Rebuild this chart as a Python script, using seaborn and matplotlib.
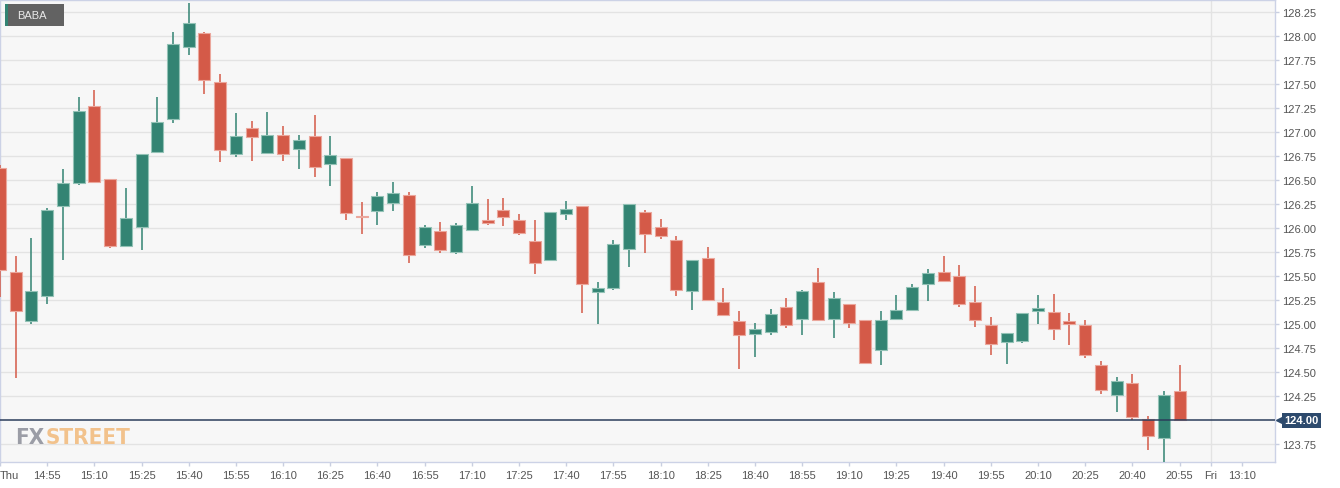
import matplotlib
matplotlib.use("Agg")
import numpy as np
import matplotlib.pyplot as plt
import matplotlib.transforms as mtransforms
from matplotlib import font_manager
from matplotlib.patches import Rectangle
import seaborn as sns

# BABA, 5-minute candles, Thu 14:40 .. 20:55
opens = [126.63, 125.54, 125.03, 125.29, 126.23, 126.47, 127.27, 126.51, 125.81, 126.01,
         126.79, 127.14, 127.89, 128.03, 127.52, 126.77, 127.04, 126.78, 126.97, 126.82,
         126.96, 126.67, 126.73, 126.13, 126.18, 126.26, 126.35, 125.82, 125.97, 125.75,
         125.98, 126.08, 126.19, 126.08, 125.87, 125.67, 126.15, 126.23, 125.34, 125.38,
         125.78, 126.17, 126.01, 125.88, 125.35, 125.69, 125.23, 125.03, 124.90, 124.92,
         125.18, 125.05, 125.44, 125.05, 125.21, 125.04, 124.73, 125.05, 125.15, 125.42,
         125.54, 125.50, 125.23, 124.99, 124.82, 124.83, 125.14, 125.13, 125.03, 124.99,
         124.58, 124.26, 124.39, 124.01, 123.82, 124.31]
highs = [126.66, 125.71, 125.90, 126.21, 126.62, 127.37, 127.44, 126.51, 126.42, 126.77,
         127.37, 128.04, 128.34, 128.04, 127.60, 127.20, 127.12, 127.21, 127.06, 126.97,
         127.18, 126.96, 126.73, 126.27, 126.38, 126.48, 126.38, 126.03, 126.06, 126.05,
         126.44, 126.30, 126.31, 126.15, 126.09, 126.17, 126.28, 126.23, 125.44, 125.88,
         126.25, 126.19, 126.10, 125.92, 125.67, 125.80, 125.38, 125.14, 125.01, 125.16,
         125.27, 125.36, 125.59, 125.34, 125.21, 125.04, 125.14, 125.30, 125.42, 125.58,
         125.71, 125.62, 125.40, 125.08, 124.91, 125.12, 125.30, 125.31, 125.12, 125.04,
         124.62, 124.45, 124.48, 124.04, 124.31, 124.58]
lows = [125.28, 124.44, 125.00, 125.21, 125.67, 126.45, 126.48, 125.79, 125.81, 125.77,
        126.79, 127.09, 127.80, 127.40, 126.69, 126.74, 126.70, 126.78, 126.70, 126.62,
        126.53, 126.44, 126.08, 125.94, 126.03, 126.18, 125.64, 125.79, 125.74, 125.73,
        125.98, 126.03, 126.02, 125.93, 125.52, 125.67, 126.09, 125.12, 125.00, 125.36,
        125.60, 125.74, 125.89, 125.29, 125.15, 125.25, 125.10, 124.53, 124.66, 124.89,
        124.96, 124.89, 125.04, 124.86, 124.96, 124.60, 124.58, 125.05, 125.15, 125.24,
        125.45, 125.18, 124.97, 124.68, 124.59, 124.80, 125.00, 124.84, 124.78, 124.65,
        124.27, 124.09, 124.00, 123.69, 123.56, 124.00]
closes = [125.56, 125.14, 125.35, 126.19, 126.47, 127.22, 126.48, 125.81, 126.11, 126.77,
          127.11, 127.92, 128.14, 127.54, 126.81, 126.96, 126.95, 126.97, 126.77, 126.92,
          126.64, 126.76, 126.16, 126.12, 126.33, 126.37, 125.72, 126.01, 125.77, 126.03,
          126.26, 126.05, 126.12, 125.95, 125.64, 126.17, 126.20, 125.42, 125.38, 125.84,
          126.25, 125.94, 125.92, 125.36, 125.67, 125.25, 125.10, 124.89, 124.95, 125.11,
          124.99, 125.35, 125.04, 125.27, 125.01, 124.60, 125.04, 125.15, 125.39, 125.53,
          125.45, 125.21, 125.04, 124.79, 124.91, 125.12, 125.17, 124.95, 125.00, 124.68,
          124.32, 124.41, 124.03, 123.84, 124.26, 124.00]

time_labels = ["14:55", "15:10", "15:25", "15:40", "15:55", "16:10", "16:25", "16:40",
               "16:55", "17:10", "17:25", "17:40", "17:55", "18:10", "18:25", "18:40",
               "18:55", "19:10", "19:25", "19:40", "19:55", "20:10", "20:25", "20:40",
               "20:55"]
price_ticks = [123.75, 124.25, 124.50, 124.75, 125.00, 125.25, 125.50, 125.75, 126.00,
               126.25, 126.50, 126.75, 127.00, 127.25, 127.50, 127.75, 128.00, 128.25]
last_price = 124.00
symbol = "BABA"

GREEN = "#338473"
RED = "#d45a48"
GREEN_EDGE = "#93c2b6"
RED_EDGE = "#eba79c"

sns.set_theme(style="whitegrid")
plt.rcParams['font.family'] = ['Liberation Sans', 'DejaVu Sans']

fig = plt.figure(figsize=(13.4, 4.89), dpi=100)
fig.patch.set_facecolor('white')
ax = fig.add_axes([0, 26 / 489, 1275 / 1340, 462 / 489])
ax.set_facecolor('#f7f7f7')

o = np.array(opens)
h = np.array(highs)
l = np.array(lows)
c = np.array(closes)
idx = np.arange(len(o))
up = c >= o
colors = np.where(up, GREEN, RED)
edges = np.where(up, GREEN_EDGE, RED_EDGE)

ax.vlines(idx, l, h, colors=colors, lw=1.1, zorder=3)
ax.bar(idx, np.abs(c - o), bottom=np.minimum(o, c), width=0.76,
       color=colors, edgecolor=edges, linewidth=0.8, zorder=4)

# axes limits / ticks
ax.set_xlim(0.01, 81.07)
ax.set_ylim(123.566, 128.375)
ax.set_yticks(price_ticks)
ax.set_yticklabels([f"{v:.2f}" for v in price_ticks])
ax.yaxis.tick_right()

xt = [0] + list(range(3, 76, 3)) + [77, 79]
xl = ["Thu"] + time_labels + ["Fri", "13:10"]
ax.set_xticks(xt)
ax.set_xticklabels(xl)
ax.get_xticklabels()[0].set_horizontalalignment('left')

ax.tick_params(axis='both', which='major', labelsize=8, labelcolor='#555555',
               color='#c9cfe0', length=3, width=1, direction='out')
ax.tick_params(axis='x', pad=3, bottom=True)
ax.tick_params(axis='y', pad=2, right=True, left=False)

ax.xaxis.grid(False)
ax.yaxis.grid(True, color='#e3e3e3', lw=1)
ax.axvline(77, color='#e3e3e3', lw=1, zorder=1)
for s in ax.spines.values():
    s.set_color('#ccd2e6')
    s.set_linewidth(1)

# last price line and label
ax.axhline(last_price, color='#2b3d5b', lw=1.1, zorder=5)
blend = mtransforms.blended_transform_factory(ax.transAxes, ax.transData)
ax.text(1.0075, last_price, f"{last_price:.2f}", transform=blend, ha='left', va='center',
        fontsize=8, fontweight='bold', color='white', clip_on=False,
        bbox=dict(boxstyle='square,pad=0.22', fc='#2d4a6d', ec='none'))
ax.plot([1.003], [last_price], marker='<', ms=4, color='#2d4a6d', transform=blend,
        clip_on=False, zorder=6)

# symbol legend box (pixel coords, origin bottom-left)
px = mtransforms.IdentityTransform()
fig.patches.append(Rectangle((5, 489 - 27), 59, 22, transform=px, fc='#626262',
                             ec='none', zorder=10))
fig.patches.append(Rectangle((5, 489 - 27), 2.5, 22, transform=px, fc=GREEN,
                             ec='none', zorder=11))
fig.text(17, 489 - 16, symbol, transform=px, ha='left', va='center', fontsize=8,
         color='#e8e8e8', zorder=12)

# watermark
names = {f.name for f in font_manager.fontManager.ttflist}
wm_font = 'Liberation Sans Narrow' if 'Liberation Sans Narrow' in names else 'DejaVu Sans'
t1 = fig.text(15, 489 - 444, "FX", transform=px, ha='left', va='baseline',
              fontsize=16, fontweight='bold', family=wm_font, fontstretch='condensed',
              color='#9b9da6', zorder=2)
fig.canvas.draw()
bb = t1.get_window_extent()
fig.text(bb.x1 + 1, 489 - 444, "STREET", transform=px, ha='left', va='baseline',
         fontsize=16, fontweight='bold', family=wm_font, fontstretch='condensed',
         color='#f2c28c', zorder=2)

fig.savefig("out.png", dpi=100)
